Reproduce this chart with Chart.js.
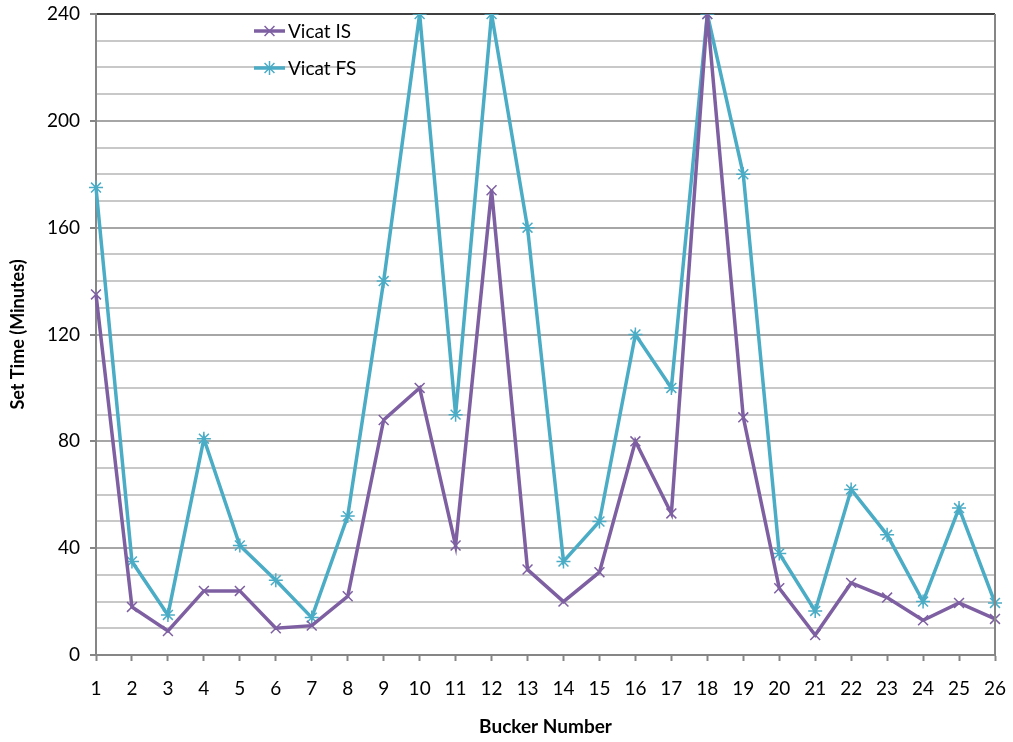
<!DOCTYPE html>
<html>
<head>
<meta charset="utf-8">
<script src="https://cdn.jsdelivr.net/npm/chart.js@4.4.1/dist/chart.umd.min.js"></script>
<style>
  html, body { margin: 0; padding: 0; background: #fff; }
  #wrap { width: 1013px; height: 742px; }
</style>
</head>
<body>
<div id="wrap"><canvas id="chart"></canvas></div>
<script>
// bucket numbers on the x axis
var buckets = ["1","2","3","4","5","6","7","8","9","10","11","12","13","14","15","16","17","18","19","20","21","22","23","24","25","26"];
// Vicat initial set (minutes)
var vicatIS = [135, 18, 9, 24, 24, 10, 11, 22, 88, 100, 41, 174, 32, 20, 31, 80, 53, 240, 89, 25, 7.5, 27, 21.5, 13, 19.5, 13.5];
// Vicat final set (minutes)
var vicatFS = [175, 35, 15, 81, 41, 28, 14, 52, 140, 240, 90, 240, 160, 35, 50, 120, 100, 240, 180, 38, 16.5, 62, 45, 20, 55, 19.5];
var yMajor = [0, 40, 80, 120, 160, 200, 240];

var purple = "#7E60A2";
var teal = "#4BACC6";
var fontFam = "Lato, 'Open Sans', sans-serif";

// legend drawn inside the plot, line + marker like the original
var insideLegend = {
    id: "insideLegend",
    afterDraw: function(chart) {
        var ctx = chart.ctx;
        var area = chart.chartArea;
        var items = [
            { label: "Vicat IS", color: purple, style: "crossRot", dy: 17 },
            { label: "Vicat FS", color: teal, style: "star", dy: 54 }
        ];
        ctx.save();
        items.forEach(function(it) {
            var y = area.top + it.dy;
            var x0 = area.left + 158;
            ctx.strokeStyle = it.color;
            ctx.lineWidth = 3.5;
            ctx.beginPath();
            ctx.moveTo(x0, y);
            ctx.lineTo(x0 + 31, y);
            ctx.stroke();
            ctx.lineWidth = 1.5;
            Chart.helpers.drawPoint(ctx, { pointStyle: it.style, radius: 7, borderWidth: 1.5 }, x0 + 15.5, y);
            ctx.fillStyle = "#000";
            ctx.font = "19px " + fontFam;
            ctx.textBaseline = "middle";
            ctx.textAlign = "left";
            ctx.fillText(it.label, x0 + 34, y + 1);
        });
        // right border of plot area
        ctx.strokeStyle = "#868686";
        ctx.lineWidth = 2;
        ctx.beginPath();
        ctx.moveTo(area.right, area.top);
        ctx.lineTo(area.right, area.bottom);
        ctx.stroke();
        ctx.restore();
    }
};

var ctx = document.getElementById("chart");
var chart = new Chart(ctx, {
    type: "line",
    data: {
        labels: buckets,
        datasets: [
            {
                label: "Vicat IS",
                data: vicatIS,
                borderColor: purple,
                backgroundColor: purple,
                borderWidth: 3.5,
                pointStyle: "crossRot",
                pointRadius: 7,
                pointBorderWidth: 1.5,
                pointBorderColor: purple,
                tension: 0
            },
            {
                label: "Vicat FS",
                data: vicatFS,
                borderColor: teal,
                backgroundColor: teal,
                borderWidth: 3.5,
                pointStyle: "star",
                pointRadius: 7,
                pointBorderWidth: 1.5,
                pointBorderColor: teal,
                tension: 0
            }
        ]
    },
    options: {
        responsive: true,
        maintainAspectRatio: false,
        animation: false,
        layout: { padding: { top: 14, right: 18, bottom: 0, left: 0 } },
        plugins: {
            legend: { display: false },
            tooltip: { enabled: false }
        },
        scales: {
            x: {
                type: "category",
                offset: false,
                afterFit: function(scale) {
                    scale.height = 87;
                    scale.paddingLeft = 0;
                    scale.paddingRight = 0;
                },
                grid: {
                    drawOnChartArea: false,
                    drawTicks: true,
                    tickLength: 6,
                    tickColor: "#868686",
                    tickWidth: 2
                },
                border: { color: "#868686", width: 2 },
                ticks: {
                    color: "#000",
                    font: { family: fontFam, size: 19 },
                    padding: 16,
                    maxRotation: 0,
                    autoSkip: false
                },
                title: {
                    display: true,
                    text: "Bucker Number",
                    color: "#000",
                    font: { family: fontFam, size: 19, weight: "bold" },
                    padding: { top: 0, bottom: 4 }
                }
            },
            y: {
                min: 0,
                max: 240,
                afterFit: function(scale) {
                    scale.width = 96;
                    scale.paddingTop = 0;
                    scale.paddingBottom = 0;
                },
                afterBuildTicks: function(scale) {
                    var t = [];
                    for (var v = 0; v <= 240; v += 10) t.push({ value: v });
                    scale.ticks = t;
                },
                grid: {
                    color: function(c) {
                        var v = c.tick ? c.tick.value : 0;
                        if (v === 240) return "#404040";
                        return yMajor.indexOf(v) >= 0 ? "#A6A6A6" : "#C8C8C8";
                    },
                    lineWidth: 2,
                    tickLength: 6,
                    tickColor: function(c) {
                        var v = c.tick ? c.tick.value : 0;
                        return yMajor.indexOf(v) >= 0 ? "#868686" : "rgba(0,0,0,0)";
                    }
                },
                border: { color: "#868686", width: 2 },
                ticks: {
                    color: "#000",
                    font: { family: fontFam, size: 19 },
                    padding: 10,
                    autoSkip: false,
                    callback: function(v) { return yMajor.indexOf(v) >= 0 ? String(v) : ""; }
                },
                title: {
                    display: true,
                    text: "Set Time (Minutes)",
                    color: "#000",
                    font: { family: fontFam, size: 18, weight: "bold" },
                    padding: { top: 7, bottom: 0 }
                }
            }
        }
    },
    plugins: [insideLegend]
});
</script>
</body>
</html>
